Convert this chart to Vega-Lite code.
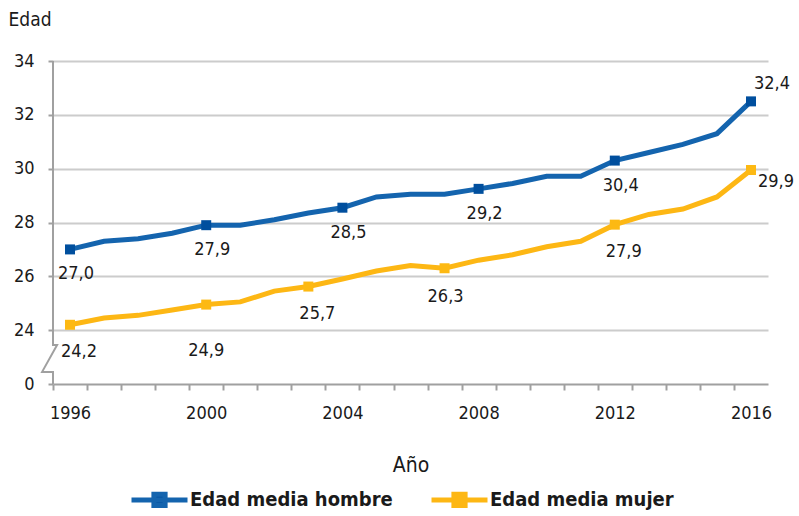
{
  "$schema": "https://vega.github.io/schema/vega-lite/v6.json",
  "width": 715,
  "height": 323,
  "autosize": "none",
  "padding": {"left": 53, "top": 61, "right": 31, "bottom": 132},
  "background": "white",
  "config": {"view": {"stroke": null}, "font": "DejaVu Sans Condensed, sans-serif"},
  "datasets": {
    "main": [
      {"year": 1996, "serie": "Edad media hombre", "edad": 27.0, "label": "27,0"},
      {"year": 1997, "serie": "Edad media hombre", "edad": 27.3, "label": null},
      {"year": 1998, "serie": "Edad media hombre", "edad": 27.4, "label": null},
      {"year": 1999, "serie": "Edad media hombre", "edad": 27.6, "label": null},
      {"year": 2000, "serie": "Edad media hombre", "edad": 27.9, "label": "27,9"},
      {"year": 2001, "serie": "Edad media hombre", "edad": 27.9, "label": null},
      {"year": 2002, "serie": "Edad media hombre", "edad": 28.1, "label": null},
      {"year": 2003, "serie": "Edad media hombre", "edad": 28.35, "label": null},
      {"year": 2004, "serie": "Edad media hombre", "edad": 28.55, "label": "28,5"},
      {"year": 2005, "serie": "Edad media hombre", "edad": 28.95, "label": null},
      {"year": 2006, "serie": "Edad media hombre", "edad": 29.05, "label": null},
      {"year": 2007, "serie": "Edad media hombre", "edad": 29.05, "label": null},
      {"year": 2008, "serie": "Edad media hombre", "edad": 29.25, "label": "29,2"},
      {"year": 2009, "serie": "Edad media hombre", "edad": 29.45, "label": null},
      {"year": 2010, "serie": "Edad media hombre", "edad": 29.72, "label": null},
      {"year": 2011, "serie": "Edad media hombre", "edad": 29.72, "label": null},
      {"year": 2012, "serie": "Edad media hombre", "edad": 30.3, "label": "30,4"},
      {"year": 2013, "serie": "Edad media hombre", "edad": 30.6, "label": null},
      {"year": 2014, "serie": "Edad media hombre", "edad": 30.9, "label": null},
      {"year": 2015, "serie": "Edad media hombre", "edad": 31.3, "label": null},
      {"year": 2016, "serie": "Edad media hombre", "edad": 32.5, "label": "32,4"},
      {"year": 1996, "serie": "Edad media mujer", "edad": 24.2, "label": "24,2"},
      {"year": 1997, "serie": "Edad media mujer", "edad": 24.45, "label": null},
      {"year": 1998, "serie": "Edad media mujer", "edad": 24.55, "label": null},
      {"year": 1999, "serie": "Edad media mujer", "edad": 24.75, "label": null},
      {"year": 2000, "serie": "Edad media mujer", "edad": 24.95, "label": "24,9"},
      {"year": 2001, "serie": "Edad media mujer", "edad": 25.05, "label": null},
      {"year": 2002, "serie": "Edad media mujer", "edad": 25.45, "label": null},
      {"year": 2003, "serie": "Edad media mujer", "edad": 25.62, "label": "25,7"},
      {"year": 2004, "serie": "Edad media mujer", "edad": 25.9, "label": null},
      {"year": 2005, "serie": "Edad media mujer", "edad": 26.2, "label": null},
      {"year": 2006, "serie": "Edad media mujer", "edad": 26.4, "label": null},
      {"year": 2007, "serie": "Edad media mujer", "edad": 26.3, "label": "26,3"},
      {"year": 2008, "serie": "Edad media mujer", "edad": 26.6, "label": null},
      {"year": 2009, "serie": "Edad media mujer", "edad": 26.8, "label": null},
      {"year": 2010, "serie": "Edad media mujer", "edad": 27.1, "label": null},
      {"year": 2011, "serie": "Edad media mujer", "edad": 27.3, "label": null},
      {"year": 2012, "serie": "Edad media mujer", "edad": 27.92, "label": "27,9"},
      {"year": 2013, "serie": "Edad media mujer", "edad": 28.3, "label": null},
      {"year": 2014, "serie": "Edad media mujer", "edad": 28.5, "label": null},
      {"year": 2015, "serie": "Edad media mujer", "edad": 28.95, "label": null},
      {"year": 2016, "serie": "Edad media mujer", "edad": 29.95, "label": "29,9"}
    ],
    "axisbreak": [
      {"i": 1, "year": 1995.5, "edad": 34},
      {"i": 2, "year": 1995.5, "edad": 23.45},
      {"i": 3, "year": 1995.62, "edad": 23.45},
      {"i": 4, "year": 1995.18, "edad": 22.45},
      {"i": 5, "year": 1995.5, "edad": 22.45},
      {"i": 6, "year": 1995.5, "edad": 22}
    ]
  },
  "data": {"name": "main"},
  "encoding": {
    "x": {
      "field": "year", "type": "quantitative",
      "scale": {"domain": [1995.5, 2016.5], "nice": false, "zero": false},
      "axis": {
        "title": "Año",
        "values": [1996, 1997, 1998, 1999, 2000, 2001, 2002, 2003, 2004, 2005, 2006, 2007, 2008, 2009, 2010, 2011, 2012, 2013, 2014, 2015, 2016, 2017],
        "labelExpr": "((datum.value - 1996) % 4 == 0 && datum.value <= 2016) ? datum.value : ''",
        "tickOffset": -17,
        "labelOffset": 17,
        "grid": false,
        "domainColor": "#a0a0a0", "domainWidth": 2,
        "tickColor": "#a0a0a0", "tickWidth": 2, "tickSize": 6,
        "labelFont": "DejaVu Sans Condensed, sans-serif",
        "labelFontSize": 18, "labelColor": "#1a1a1a", "labelPadding": 14,
        "labelOverlap": false, "labelBound": false, "labelFlush": false,
        "titleFont": "DejaVu Sans Condensed, sans-serif",
        "titleFontSize": 21, "titleFontWeight": "normal", "titleColor": "#1a1a1a",
        "titleY": 70, "titleBaseline": "top"
      }
    },
    "y": {
      "field": "edad", "type": "quantitative",
      "scale": {"domain": [22, 34], "nice": false, "zero": false},
      "axis": {
        "title": "Edad",
        "values": [22, 24, 26, 28, 30, 32, 34],
        "labelExpr": "datum.value == 22 ? '0' : datum.value",
        "domain": false,
        "grid": true, "gridColor": "#cccccc", "gridWidth": 2,
        "gridOpacity": {"condition": {"test": "datum.value == 22", "value": 0}, "value": 1},
        "tickColor": "#a0a0a0", "tickWidth": 2, "tickSize": 5,
        "labelFont": "DejaVu Sans Condensed, sans-serif",
        "labelFontSize": 18, "labelColor": "#1a1a1a", "labelPadding": 14,
        "titleFont": "DejaVu Sans Condensed, sans-serif",
        "titleFontSize": 19, "titleFontWeight": "normal", "titleColor": "#1a1a1a",
        "titleAngle": 0, "titleAlign": "left", "titleBaseline": "alphabetic",
        "titleX": -45, "titleY": -36
      }
    }
  },
  "layer": [
    {
      "data": {"name": "axisbreak"},
      "mark": {"type": "line", "color": "#a0a0a0", "strokeWidth": 2, "clip": false},
      "encoding": {"order": {"field": "i", "type": "quantitative"}}
    },
    {
      "mark": {"type": "line", "strokeWidth": 5, "strokeJoin": "miter"},
      "encoding": {
        "stroke": {
          "field": "serie", "type": "nominal",
          "scale": {"domain": ["Edad media hombre", "Edad media mujer"], "range": ["#1464AE", "#FDB714"]},
          "legend": {
            "title": null,
            "orient": "none", "legendX": 76, "legendY": 408,
            "direction": "horizontal",
            "padding": 0,
            "symbolType": "M-1,0H1M-0.2,-0.2H0.2V0.2H-0.2Z",
            "symbolSize": 3136,
            "symbolStrokeWidth": 5,
            "labelFont": "DejaVu Sans Condensed, sans-serif",
            "labelFontSize": 20, "labelFontWeight": "bold", "labelColor": "#1a1a1a",
            "labelOffset": 0, "labelLimit": 400, "columnPadding": 28,
            "encode": {"symbols": {"update": {"fill": {"scale": "fill", "field": "value"}, "fillOpacity": {"value": 1}}}}
          }
        }
      }
    },
    {
      "transform": [{"filter": "datum.label != null"}],
      "mark": {"type": "point", "shape": "square", "filled": true, "size": 100, "opacity": 1},
      "encoding": {
        "fill": {
          "field": "serie", "type": "nominal",
          "scale": {"domain": ["Edad media hombre", "Edad media mujer"], "range": ["#004F9E", "#FDB913"]},
          "legend": null
        }
      }
    },
    {
      "transform": [{"filter": "datum.label != null && datum.serie == 'Edad media hombre' && datum.year < 2016"}],
      "mark": {"type": "text", "dx": 6, "dy": 25, "fontSize": 18, "color": "#1a1a1a", "font": "DejaVu Sans Condensed, sans-serif", "baseline": "middle", "align": "center"},
      "encoding": {"text": {"field": "label"}}
    },
    {
      "transform": [{"filter": "datum.label == '32,4'"}],
      "mark": {"type": "text", "dx": 21, "dy": -17, "fontSize": 18, "color": "#1a1a1a", "font": "DejaVu Sans Condensed, sans-serif", "baseline": "middle", "align": "center"},
      "encoding": {"text": {"field": "label"}}
    },
    {
      "transform": [{"filter": "datum.serie == 'Edad media mujer' && (datum.label == '24,2' || datum.label == '25,7' || datum.label == '27,9')"}],
      "mark": {"type": "text", "dx": 9, "dy": 27, "fontSize": 18, "color": "#1a1a1a", "font": "DejaVu Sans Condensed, sans-serif", "baseline": "middle", "align": "center"},
      "encoding": {"text": {"field": "label"}}
    },
    {
      "transform": [{"filter": "datum.serie == 'Edad media mujer' && datum.label == '26,3'"}],
      "mark": {"type": "text", "dx": 1, "dy": 29, "fontSize": 18, "color": "#1a1a1a", "font": "DejaVu Sans Condensed, sans-serif", "baseline": "middle", "align": "center"},
      "encoding": {"text": {"field": "label"}}
    },
    {
      "transform": [{"filter": "datum.serie == 'Edad media mujer' && datum.label == '24,9'"}],
      "mark": {"type": "text", "dx": 0, "dy": 46, "fontSize": 18, "color": "#1a1a1a", "font": "DejaVu Sans Condensed, sans-serif", "baseline": "middle", "align": "center"},
      "encoding": {"text": {"field": "label"}}
    },
    {
      "transform": [{"filter": "datum.serie == 'Edad media mujer' && datum.label == '29,9'"}],
      "mark": {"type": "text", "dx": 25, "dy": 12, "fontSize": 18, "color": "#1a1a1a", "font": "DejaVu Sans Condensed, sans-serif", "baseline": "middle", "align": "center"},
      "encoding": {"text": {"field": "label"}}
    }
  ]
}
